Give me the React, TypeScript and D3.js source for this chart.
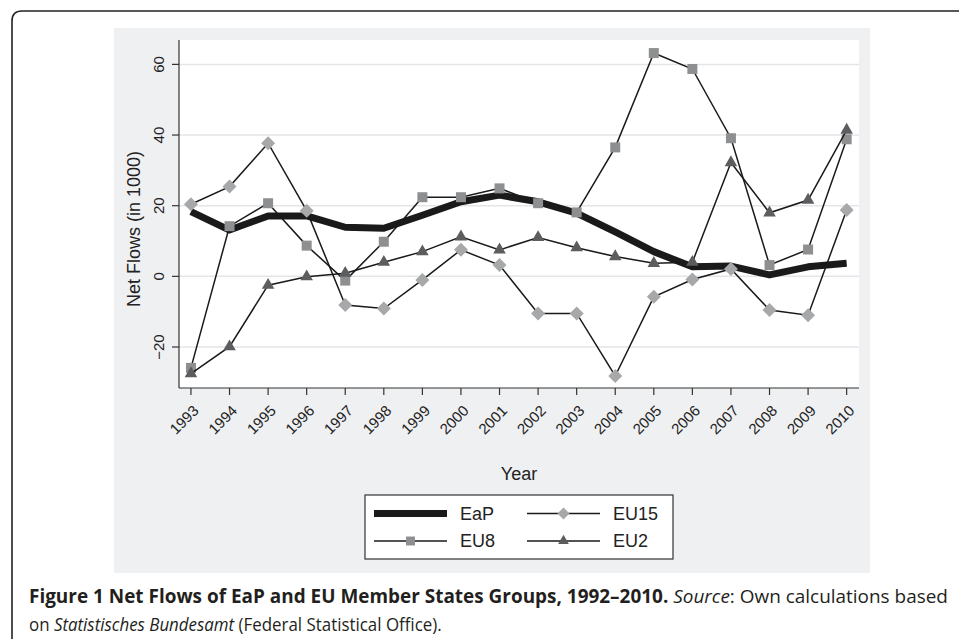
import React, {useLayoutEffect, useRef} from "react";
import * as d3 from "d3";

const years = [1993, 1994, 1995, 1996, 1997, 1998, 1999, 2000, 2001, 2002, 2003, 2004, 2005, 2006, 2007, 2008, 2009, 2010];
const eap = [18.3, 13.1, 17.1, 17.1, 13.9, 13.6, 17.3, 21.1, 23.0, 21.1, 17.9, 12.6, 7.0, 2.7, 2.9, 0.4, 2.7, 3.7];
const eu15 = [20.4, 25.4, 37.7, 18.6, -8.1, -9.1, -1.0, 7.5, 3.2, -10.5, -10.5, -28.2, -5.8, -0.9, 2.1, -9.5, -11.0, 18.8];
const eu8 = [-25.9, 14.2, 20.7, 8.7, -1.2, 9.8, 22.4, 22.4, 24.9, 20.7, 18.1, 36.5, 63.2, 58.7, 39.1, 3.2, 7.6, 38.8];
const eu2 = [-27.5, -19.9, -2.5, -0.1, 0.9, 4.0, 7.0, 11.2, 7.5, 11.0, 8.1, 5.6, 3.7, 4.0, 32.2, 18.0, 21.6, 41.4];
const yTicks = [-20, 0, 20, 40, 60];

const W = 959;
const H = 639;
const plot = {left: 179, right: 859, top: 40, bottom: 388};

const font = "'Liberation Sans', Arial, Helvetica, sans-serif";
const capFont = "'Open Sans', 'Noto Sans', sans-serif";
const lineColor = "#1a1a1a";

export default function App() {
    const cap1 = useRef<SVGTextElement>(null);
    const cap2 = useRef<SVGTextElement>(null);

    // squeeze the caption lines to the condensed width of the original
    useLayoutEffect(() => {
        const fit = (el: SVGTextElement | null, x0: number, y0: number, target: number) => {
            if (!el) return;
            const w = el.getComputedTextLength();
            el.setAttribute("transform", `translate(${x0},${y0}) scale(${target / w},1)`);
        };
        fit(cap1.current, 29, 603, 919);
        fit(cap2.current, 29, 631, 413);
    }, []);

    const x = d3.scaleLinear().domain([1992.69, 2010.32]).range([plot.left, plot.right]);
    const y = d3.scaleLinear().domain([-31.6, 66.9]).range([plot.bottom, plot.top]);

    const line = d3.line<number>()
        .x((_, i) => x(years[i]))
        .y(d => y(d));

    const sq = (size: number) => d3.symbol(d3.symbolSquare, size)() as string;
    const tri = (size: number) => d3.symbol(d3.symbolTriangle, size)() as string;

    const series = [
        {name: "EU15", data: eu15, fill: "#a7a8aa", path: sq(98), rot: 45, legendPath: sq(72)},
        {name: "EU8", data: eu8, fill: "#8e8f91", path: sq(100), rot: 0, legendPath: sq(80)},
        {name: "EU2", data: eu2, fill: "#5c5d5f", path: tri(68), rot: 0, legendPath: tri(50)},
    ];

    const legend = {x: 365, y: 495, w: 308, h: 64};
    const legendItems = [
        {name: "EaP", col: 0, row: 0},
        {name: "EU15", col: 1, row: 0},
        {name: "EU8", col: 0, row: 1},
        {name: "EU2", col: 1, row: 1},
    ];

    return (
        <svg width={W} height={H} style={{position: "absolute", left: 0, top: 0, background: "white"}}>
            {/* outer frame */}
            <path d={`M12,${H + 10} L12,21 Q12,11 22,11 L${W + 10},11`} fill="none" stroke="#222" strokeWidth={1.6}/>

            {/* gray panel */}
            <rect x={114} y={28} width={756} height={545} fill="#eff0f2"/>
            <rect x={plot.left} y={plot.top} width={plot.right - plot.left} height={plot.bottom - plot.top} fill="white"/>

            {/* gridlines */}
            {yTicks.map(t => (
                <line key={"g" + t} x1={plot.left} x2={plot.right} y1={y(t)} y2={y(t)} stroke="#e4e5e7" strokeWidth={1.5}/>
            ))}

            {/* y axis */}
            <line x1={plot.left} x2={plot.left} y1={plot.top} y2={plot.bottom} stroke="#333" strokeWidth={1.2}/>
            {yTicks.map(t => (
                <g key={"y" + t}>
                    <line x1={plot.left - 7} x2={plot.left} y1={y(t)} y2={y(t)} stroke="#333" strokeWidth={1.2}/>
                    <text transform={`translate(164,${y(t)}) rotate(-90)`} textAnchor="middle"
                          fontFamily={font} fontSize={15} fill="#222">{t < 0 ? "\u2212" + Math.abs(t) : t}</text>
                </g>
            ))}
            <text transform={`translate(140,229) rotate(-90)`} textAnchor="middle" fontFamily={font} fontSize={18}
                  fill="#222">Net Flows (in 1000)</text>

            {/* x axis */}
            <line x1={plot.left} x2={plot.right} y1={plot.bottom} y2={plot.bottom} stroke="#333" strokeWidth={1.2}/>
            {years.map(yr => (
                <g key={"x" + yr}>
                    <line x1={x(yr)} x2={x(yr)} y1={plot.bottom} y2={plot.bottom + 7} stroke="#333" strokeWidth={1.2}/>
                    <text transform={`translate(${x(yr) + 5},408) rotate(-45)`} textAnchor="end" dy="0.35em"
                          fontFamily={font} fontSize={15} fill="#222">{yr}</text>
                </g>
            ))}
            <text x={(plot.left + plot.right) / 2} y={480} textAnchor="middle" fontFamily={font} fontSize={18}
                  fill="#222">Year</text>

            {/* series */}
            <path d={line(eap) as string} fill="none" stroke={lineColor} strokeWidth={7} strokeLinejoin="round"/>
            {series.map(s => (
                <g key={s.name}>
                    <path d={line(s.data) as string} fill="none" stroke={lineColor} strokeWidth={1.5}/>
                    {s.data.map((v, i) => (
                        <path key={i} d={s.path} fill={s.fill}
                              transform={`translate(${x(years[i])},${y(v)}) rotate(${s.rot})`}/>
                    ))}
                </g>
            ))}

            {/* legend */}
            <rect x={legend.x} y={legend.y} width={legend.w} height={legend.h} fill="white" stroke="#333" strokeWidth={1.2}/>
            {legendItems.map(it => {
                const x0 = it.col === 0 ? 374 : 527;
                const x1 = x0 + 73;
                const cy = it.row === 0 ? 513.5 : 541;
                const s = series.find(d => d.name === it.name);
                return (
                    <g key={"l" + it.name}>
                        {s ? (
                            <g>
                                <line x1={x0} x2={x1} y1={cy} y2={cy} stroke={lineColor} strokeWidth={1.5}/>
                                <path d={s.legendPath} fill={s.fill}
                                      transform={`translate(${(x0 + x1) / 2},${cy}) rotate(${s.rot})`}/>
                            </g>
                        ) : (
                            <line x1={x0} x2={x1} y1={cy} y2={cy} stroke={lineColor} strokeWidth={7}/>
                        )}
                        <text x={x1 + 13} y={cy} dy="0.36em" fontFamily={font} fontSize={18} fill="#222">{it.name}</text>
                    </g>
                );
            })}

            {/* caption */}
            <text ref={cap1} transform="translate(29,603)" fontFamily={capFont} fontSize={19} fill="#231f20">
                <tspan fontWeight="bold">Figure 1 Net Flows of EaP and EU Member States Groups, 1992–2010.</tspan>
                <tspan> </tspan>
                <tspan fontStyle="italic">Source</tspan>
                <tspan>: Own calculations based</tspan>
            </text>
            <text ref={cap2} transform="translate(29,631)" fontFamily={capFont} fontSize={19} fill="#231f20">
                <tspan>on </tspan>
                <tspan fontStyle="italic">Statistisches Bundesamt</tspan>
                <tspan> (Federal Statistical Office).</tspan>
            </text>
        </svg>
    );
}
